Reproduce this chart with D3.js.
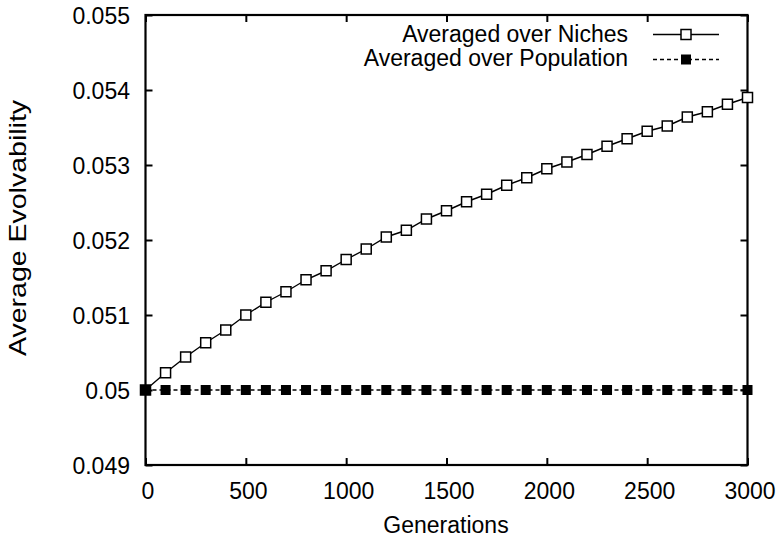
<!DOCTYPE html>
<html>
<head>
<meta charset="utf-8">
<script src="https://cdn.jsdelivr.net/npm/d3@7"></script>
<style>
  html, body { margin: 0; padding: 0; background: #fff; }
  text { font-family: "Liberation Sans", Arial, Helvetica, sans-serif; fill: #000; }
</style>
</head>
<body>
<svg id="chart" width="784" height="541"></svg>
<script>
// ---- data ----
const generations = [0,100,200,300,400,500,600,700,800,900,1000,1100,1200,1300,1400,1500,
  1600,1700,1800,1900,2000,2100,2200,2300,2400,2500,2600,2700,2800,2900,3000];
const nichesValues = [0.05000,0.05023,0.05044,0.05063,0.05080,0.05100,0.05117,0.05131,0.05147,0.05159,
  0.05174,0.05188,0.05204,0.05213,0.05228,0.05239,0.05251,0.05261,0.05273,0.05283,0.05295,
  0.05304,0.05314,0.05325,0.05335,0.05345,0.05352,0.05364,0.05371,0.05381,0.05390];
const populationValues = [0.05,0.05,0.05,0.05,0.05,0.05,0.05,0.05,0.05,0.05,0.05,0.05,0.05,0.05,0.05,0.05,
  0.05,0.05,0.05,0.05,0.05,0.05,0.05,0.05,0.05,0.05,0.05,0.05,0.05,0.05,0.05];
const xTicks = [0,500,1000,1500,2000,2500,3000];
const xTickLabels = ["0","500","1000","1500","2000","2500","3000"];
const yTicks = [0.049,0.050,0.051,0.052,0.053,0.054,0.055];
const yTickLabels = ["0.049","0.05","0.051","0.052","0.053","0.054","0.055"];
const seriesNames = ["Averaged over Niches","Averaged over Population"];
const xTitle = "Generations";
const yTitle = "Average Evolvability";

// ---- layout ----
const L = 145.5, R = 747.5, T = 15, B = 465;
const FS = 23;
const svg = d3.select("#chart");
const x = d3.scaleLinear().domain([0, 3000]).range([L, R]);
const y = d3.scaleLinear().domain([0.049, 0.055]).range([B, T]);

// axes (inward ticks, gnuplot style)
const tick = 7;
const gx = svg.append("g").attr("transform", `translate(0,${B})`)
  .call(d3.axisBottom(x).tickValues(xTicks).tickFormat((d,i)=>xTickLabels[i]).tickSizeInner(-tick).tickSizeOuter(0));
gx.selectAll("text").attr("y", 33.5).attr("dy", null).attr("x", 2).attr("font-size", FS);
const gy = svg.append("g").attr("transform", `translate(${L},0)`)
  .call(d3.axisLeft(y).tickValues(yTicks).tickFormat((d,i)=>yTickLabels[i]).tickSizeInner(-tick).tickSizeOuter(0));
gy.selectAll("text").attr("x", -15.5).attr("dy", null).attr("y", 8).attr("font-size", FS);
const gt = svg.append("g").attr("transform", `translate(0,${T})`)
  .call(d3.axisTop(x).tickValues(xTicks).tickFormat("").tickSizeInner(-tick).tickSizeOuter(0));
const gr = svg.append("g").attr("transform", `translate(${R},0)`)
  .call(d3.axisRight(y).tickValues(yTicks).tickFormat("").tickSizeInner(-tick).tickSizeOuter(0));
[gx, gy, gt, gr].forEach(g => {
  g.select(".domain").remove();
  g.selectAll("line").attr("stroke", "#000").attr("stroke-width", 2);
  g.attr("font-family", null).attr("font-size", null);
});

// border
svg.append("rect").attr("x", L).attr("y", T).attr("width", R - L).attr("height", B - T)
  .attr("fill", "none").attr("stroke", "#000").attr("stroke-width", 2.2);

// titles
svg.append("text").attr("transform", `translate(446,533)`)
  .attr("text-anchor", "middle").attr("font-size", FS).text(xTitle);
svg.append("text").attr("transform", `translate(26,228) rotate(-90) scale(1.24,1)`)
  .attr("text-anchor", "middle").attr("font-size", FS).text(yTitle);

// series
const nichesData = generations.map((g,i)=>[g, nichesValues[i]]);
const popData = generations.map((g,i)=>[g, populationValues[i]]);
const line = d3.line().x(d=>x(d[0])).y(d=>y(d[1]));

svg.append("path").datum(nichesData).attr("d", line).attr("fill", "none")
  .attr("stroke", "#000").attr("stroke-width", 1.4);
svg.append("g").selectAll("rect").data(nichesData).join("rect")
  .attr("x", d=>x(d[0])-5).attr("y", d=>y(d[1])-5).attr("width", 10).attr("height", 10)
  .attr("fill", "#fff").attr("stroke", "#000").attr("stroke-width", 1.5);

svg.append("path").datum(popData).attr("d", line).attr("fill", "none")
  .attr("stroke", "#000").attr("stroke-width", 1.4).attr("stroke-dasharray", "4,3");
svg.append("g").selectAll("rect").data(popData).join("rect")
  .attr("x", d=>x(d[0])-5).attr("y", d=>y(d[1])-5).attr("width", 10).attr("height", 10)
  .attr("fill", "#000");

// legend
const legendRows = [
  {name: seriesNames[0], ty: 42, ly: 34.5, dash: null, fill: "#fff"},
  {name: seriesNames[1], ty: 66, ly: 59.5, dash: "4,3", fill: "#000"}
];
legendRows.forEach(r => {
  svg.append("text").attr("x", 628).attr("y", r.ty)
    .attr("text-anchor", "end").attr("font-size", FS).text(r.name);
  svg.append("line").attr("x1", 653).attr("x2", 719).attr("y1", r.ly).attr("y2", r.ly)
    .attr("stroke", "#000").attr("stroke-width", 1.4).attr("stroke-dasharray", r.dash);
  svg.append("rect").attr("x", 686-5).attr("y", r.ly-5).attr("width", 10).attr("height", 10)
    .attr("fill", r.fill).attr("stroke", r.fill === "#fff" ? "#000" : "none").attr("stroke-width", 1.5);
});
</script>
</body>
</html>
